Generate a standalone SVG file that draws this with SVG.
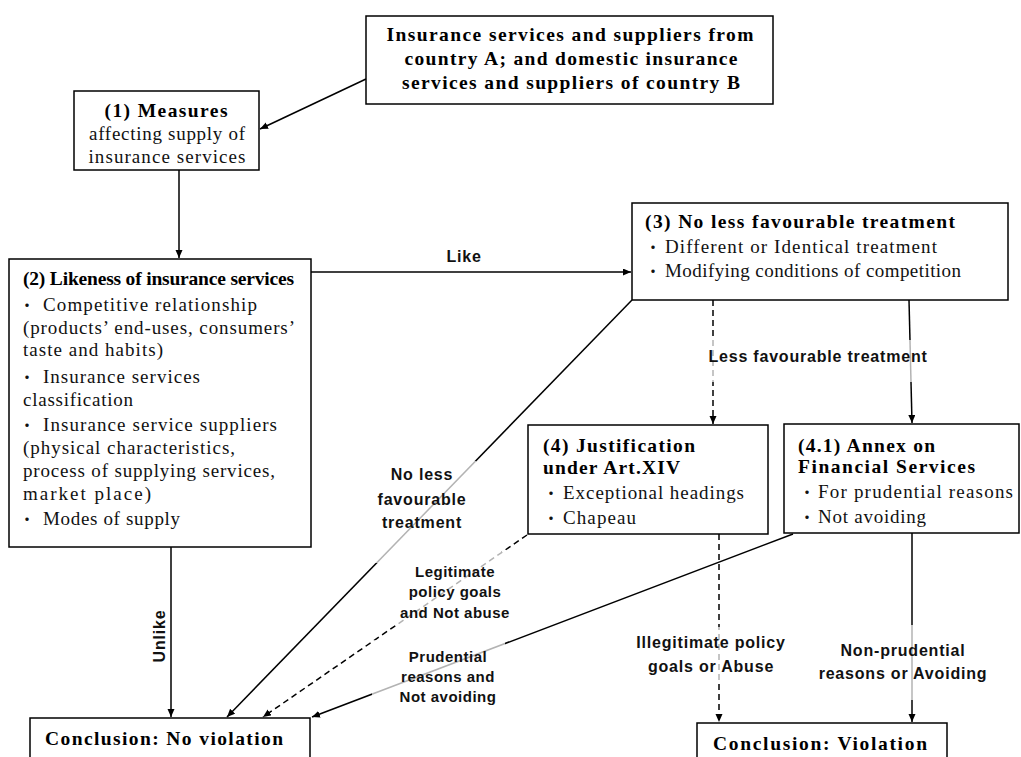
<svg xmlns="http://www.w3.org/2000/svg" width="1021" height="757" viewBox="0 0 1021 757">
  <defs>
    <marker id="arrow" markerUnits="userSpaceOnUse" markerWidth="9" markerHeight="8" refX="8" refY="3.5" orient="auto">
      <path d="M0,0 L8,3.5 L0,7 z" fill="#000"/>
    </marker>
    <style>
      .box { fill: #fff; stroke: #000; stroke-width: 1.5; }
      .h { font-family: "Liberation Serif", "Noto Sans CJK JP", serif; font-weight: bold; font-size: 19.5px; fill: #000; }
      .t { font-family: "Liberation Serif", "Noto Sans CJK JP", serif; font-size: 19px; fill: #111; }
      .dot { font-family: "Noto Sans CJK JP", sans-serif; font-size: 16px; }
      .c { text-anchor: middle; }
      .lbl { font-family: "Liberation Sans", Arial, sans-serif; font-weight: bold; font-size: 16px; letter-spacing: 0.8px; text-anchor: middle; fill: #111; }
      .lbl2 { font-family: "Liberation Sans", Arial, sans-serif; font-weight: bold; font-size: 15px; letter-spacing: 0.5px; text-anchor: middle; fill: #111; }
      .edge { stroke: #000; stroke-width: 1.5; fill: none; marker-end: url(#arrow); }
      .dash { stroke-dasharray: 6 4; }
      .veil { fill: #fff; opacity: 0.7; }
    </style>
  </defs>

  <rect width="1021" height="757" fill="#fff"/>

  <!-- connectors -->
  <g id="connectors">
    <line class="edge" x1="366" y1="79" x2="260" y2="129"/>
    <line class="edge" x1="179" y1="170" x2="179" y2="258"/>
    <line class="edge" x1="311" y1="272" x2="631" y2="272"/>
    <line class="edge" x1="171" y1="547" x2="171" y2="717"/>
    <line class="edge" x1="632" y1="300" x2="227" y2="717"/>
    <line class="edge dash" x1="713" y1="300" x2="713" y2="424"/>
    <line class="edge" x1="909" y1="300" x2="912" y2="423"/>
    <line class="edge dash" x1="527" y1="535" x2="263" y2="717"/>
    <line class="edge" x1="793" y1="534" x2="312" y2="717"/>
    <line class="edge dash" x1="719" y1="534" x2="719" y2="722"/>
    <line class="edge" x1="912" y1="533" x2="912" y2="722"/>

    <!-- connector labels -->
    <text class="lbl" x="464" y="262">Like</text>
    <text class="lbl" transform="translate(165,636) rotate(-90)">Unlike</text>

    <rect class="veil" x="700" y="340" width="236" height="42"/>
    <text class="lbl" x="818" y="362">Less favourable treatment</text>

    <rect class="veil" x="370" y="461" width="106" height="102"/>
    <text class="lbl" x="422" y="480">No less</text>
    <text class="lbl" x="422" y="505">favourable</text>
    <text class="lbl" x="422" y="528">treatment</text>

    <rect class="veil" x="398" y="552" width="114" height="76"/>
    <text class="lbl2" x="455" y="577">Legitimate</text>
    <text class="lbl2" x="455" y="597">policy goals</text>
    <text class="lbl2" x="455" y="618">and Not abuse</text>

    <rect class="veil" x="372" y="640" width="133" height="72"/>
    <text class="lbl2" x="448" y="662">Prudential</text>
    <text class="lbl2" x="448" y="682">reasons and</text>
    <text class="lbl2" x="448" y="702">Not avoiding</text>

    <rect class="veil" x="634" y="627" width="156" height="56"/>
    <text class="lbl" x="711" y="648">Illegitimate policy</text>
    <text class="lbl" x="711" y="672">goals or Abuse</text>

    <rect class="veil" x="815" y="625" width="176" height="75"/>
    <text class="lbl" x="903" y="656">Non-prudential</text>
    <text class="lbl" x="903" y="679">reasons or Avoiding</text>
  </g>

  <!-- source: services and suppliers of both countries -->
  <g id="node-parties">
    <rect class="box" x="366" y="16" width="407" height="88"/>
    <text class="h c" x="570" y="41" font-size="20" textLength="367" lengthAdjust="spacing">Insurance services and suppliers from</text>
    <text class="h c" x="571" y="65" font-size="20" textLength="333" lengthAdjust="spacing">country A; and domestic insurance</text>
    <text class="h c" x="571" y="89" font-size="20" textLength="338" lengthAdjust="spacing">services and suppliers of country B</text>
  </g>

  <!-- step 1 -->
  <g id="node-measures">
    <rect class="box" x="74" y="91" width="185" height="79"/>
    <text class="h c" x="166" y="117" textLength="123" lengthAdjust="spacing">(1) Measures</text>
    <text class="t c" x="167" y="140" textLength="156" lengthAdjust="spacing">affecting supply of</text>
    <text class="t c" x="167" y="163" textLength="157" lengthAdjust="spacing">insurance services</text>
  </g>

  <!-- step 2 -->
  <g id="node-likeness">
    <rect class="box" x="9" y="259" width="302" height="288"/>
    <text class="h" x="23" y="285" font-size="17.5" textLength="271" lengthAdjust="spacing">(2) Likeness of insurance services</text>
    <text class="t"><tspan class="dot" x="19" y="311">・</tspan><tspan x="43" y="311" textLength="214" lengthAdjust="spacing">Competitive relationship</tspan></text>
    <text class="t" x="23" y="334" textLength="272" lengthAdjust="spacing">(products’ end-uses, consumers’</text>
    <text class="t" x="23" y="356" textLength="140" lengthAdjust="spacing">taste and habits)</text>
    <text class="t"><tspan class="dot" x="19" y="383">・</tspan><tspan x="43" y="383" textLength="157" lengthAdjust="spacing">Insurance services</tspan></text>
    <text class="t" x="23" y="406" textLength="110" lengthAdjust="spacing">classification</text>
    <text class="t"><tspan class="dot" x="19" y="431">・</tspan><tspan x="43" y="431" textLength="234" lengthAdjust="spacing">Insurance service suppliers</tspan></text>
    <text class="t" x="23" y="454" textLength="212" lengthAdjust="spacing">(physical characteristics,</text>
    <text class="t" x="23" y="477" textLength="252" lengthAdjust="spacing">process of supplying services,</text>
    <text class="t" x="23" y="500" textLength="128" lengthAdjust="spacing">market place)</text>
    <text class="t"><tspan class="dot" x="19" y="525">・</tspan><tspan x="43" y="525" textLength="137" lengthAdjust="spacing">Modes of supply</tspan></text>
  </g>

  <!-- step 3 -->
  <g id="node-treatment">
    <rect class="box" x="632" y="203" width="376" height="97"/>
    <text class="h" x="645" y="228" textLength="310" lengthAdjust="spacing">(3) No less favourable treatment</text>
    <text class="t"><tspan class="dot" x="645" y="253">・</tspan><tspan x="665" y="253" textLength="272" lengthAdjust="spacing">Different or Identical treatment</tspan></text>
    <text class="t"><tspan class="dot" x="645" y="277">・</tspan><tspan x="665" y="277" textLength="296" lengthAdjust="spacing">Modifying conditions of competition</tspan></text>
  </g>

  <!-- step 4 -->
  <g id="node-justification">
    <rect class="box" x="528" y="425" width="240" height="109"/>
    <text class="h" x="543" y="452" textLength="152" lengthAdjust="spacing">(4) Justification</text>
    <text class="h" x="543" y="474" textLength="137" lengthAdjust="spacing">under Art.XIV</text>
    <text class="t"><tspan class="dot" x="543" y="499">・</tspan><tspan x="563" y="499" textLength="181" lengthAdjust="spacing">Exceptional headings</tspan></text>
    <text class="t"><tspan class="dot" x="543" y="524">・</tspan><tspan x="563" y="524" textLength="73" lengthAdjust="spacing">Chapeau</tspan></text>
  </g>

  <!-- step 4.1 -->
  <g id="node-annex">
    <rect class="box" x="784" y="424" width="235" height="109"/>
    <text class="h" x="798" y="452" textLength="137" lengthAdjust="spacing">(4.1) Annex on</text>
    <text class="h" x="798" y="473" textLength="177" lengthAdjust="spacing">Financial Services</text>
    <text class="t"><tspan class="dot" x="799" y="498">・</tspan><tspan x="818" y="498" textLength="195" lengthAdjust="spacing">For prudential reasons</tspan></text>
    <text class="t"><tspan class="dot" x="799" y="523">・</tspan><tspan x="818" y="523" textLength="108" lengthAdjust="spacing">Not avoiding</tspan></text>
  </g>

  <!-- outcomes -->
  <g id="node-no-violation">
    <rect class="box" x="30" y="718" width="280" height="60"/>
    <text class="h" x="45" y="745" font-size="20" textLength="238" lengthAdjust="spacing">Conclusion: No violation</text>
  </g>

  <g id="node-violation">
    <rect class="box" x="697" y="723" width="250" height="60"/>
    <text class="h" x="713" y="750" font-size="20" textLength="214" lengthAdjust="spacing">Conclusion: Violation</text>
  </g>
</svg>
